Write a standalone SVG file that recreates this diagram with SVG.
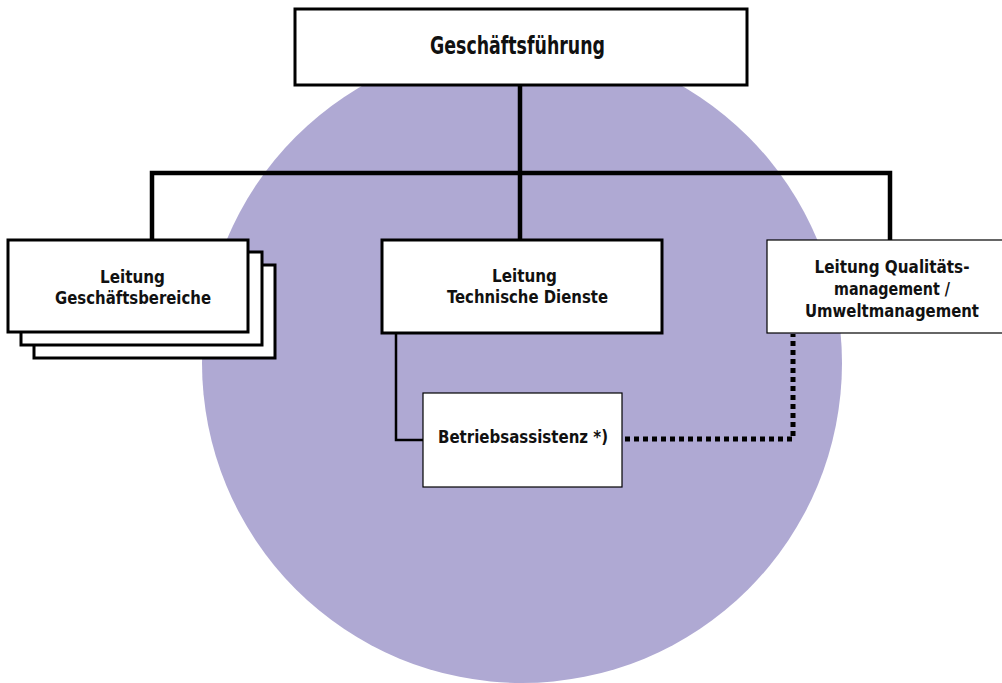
<svg xmlns="http://www.w3.org/2000/svg" width="1002" height="683" viewBox="0 0 1002 683">
  <style>
    .box { fill: #ffffff; stroke: #000000; }
    .heavy { stroke-width: 3; }
    .light { stroke-width: 1.2; }
    .label { font-family: "DejaVu Sans Condensed", "DejaVu Sans", "Liberation Sans", sans-serif; font-weight: bold; font-size: 18.5px; fill: #111111; text-anchor: middle; }
    .title { font-size: 24px; }
    .tree { fill: none; stroke: #000000; stroke-width: 4.5; stroke-linecap: square; }
    .link { fill: none; stroke: #000000; stroke-width: 2.5; }
    .dotted { fill: none; stroke: #000000; stroke-width: 5; stroke-dasharray: 5 4; }
  </style>

  <rect width="1002" height="683" fill="#ffffff"/>

  <!-- background disc -->
  <circle cx="522" cy="363" r="320" fill="#afa9d3"/>

  <g id="connectors">
    <path class="tree" d="M520 86 V240"/>
    <path class="tree" d="M152 240 V173 H890 V240"/>
    <path class="link" d="M396 333 V440 H423"/>
    <path class="dotted" d="M625 439 H793 V334"/>
  </g>

  <g id="geschaeftsfuehrung">
    <rect class="box heavy" x="295" y="9" width="452" height="76"/>
    <text class="label title" x="517.5" y="54" textLength="175" lengthAdjust="spacingAndGlyphs">Geschäftsführung</text>
  </g>

  <g id="geschaeftsbereiche">
    <rect class="box heavy" x="34" y="265" width="241" height="93"/>
    <rect class="box heavy" x="21" y="252" width="241" height="93"/>
    <rect class="box heavy" x="8" y="240" width="240" height="92"/>
    <text class="label" x="132.5" y="283" textLength="65" lengthAdjust="spacingAndGlyphs">Leitung</text>
    <text class="label" x="133" y="304" textLength="156" lengthAdjust="spacingAndGlyphs">Geschäftsbereiche</text>
  </g>

  <g id="technische-dienste">
    <rect class="box heavy" x="382" y="240" width="280" height="93"/>
    <text class="label" x="524.5" y="282" textLength="65" lengthAdjust="spacingAndGlyphs">Leitung</text>
    <text class="label" x="527.5" y="303" textLength="161" lengthAdjust="spacingAndGlyphs">Technische Dienste</text>
  </g>

  <g id="qualitaetsmanagement">
    <rect class="box light" x="767" y="240" width="240" height="93"/>
    <text class="label" x="892" y="273" textLength="155" lengthAdjust="spacingAndGlyphs">Leitung Qualitäts-</text>
    <text class="label" x="892" y="295" textLength="116" lengthAdjust="spacingAndGlyphs">management /</text>
    <text class="label" x="892" y="317" textLength="174" lengthAdjust="spacingAndGlyphs">Umweltmanagement</text>
  </g>

  <g id="betriebsassistenz">
    <rect class="box light" x="423" y="393" width="199" height="94"/>
    <text class="label" x="523" y="443" textLength="170" lengthAdjust="spacingAndGlyphs">Betriebsassistenz *)</text>
  </g>
</svg>
